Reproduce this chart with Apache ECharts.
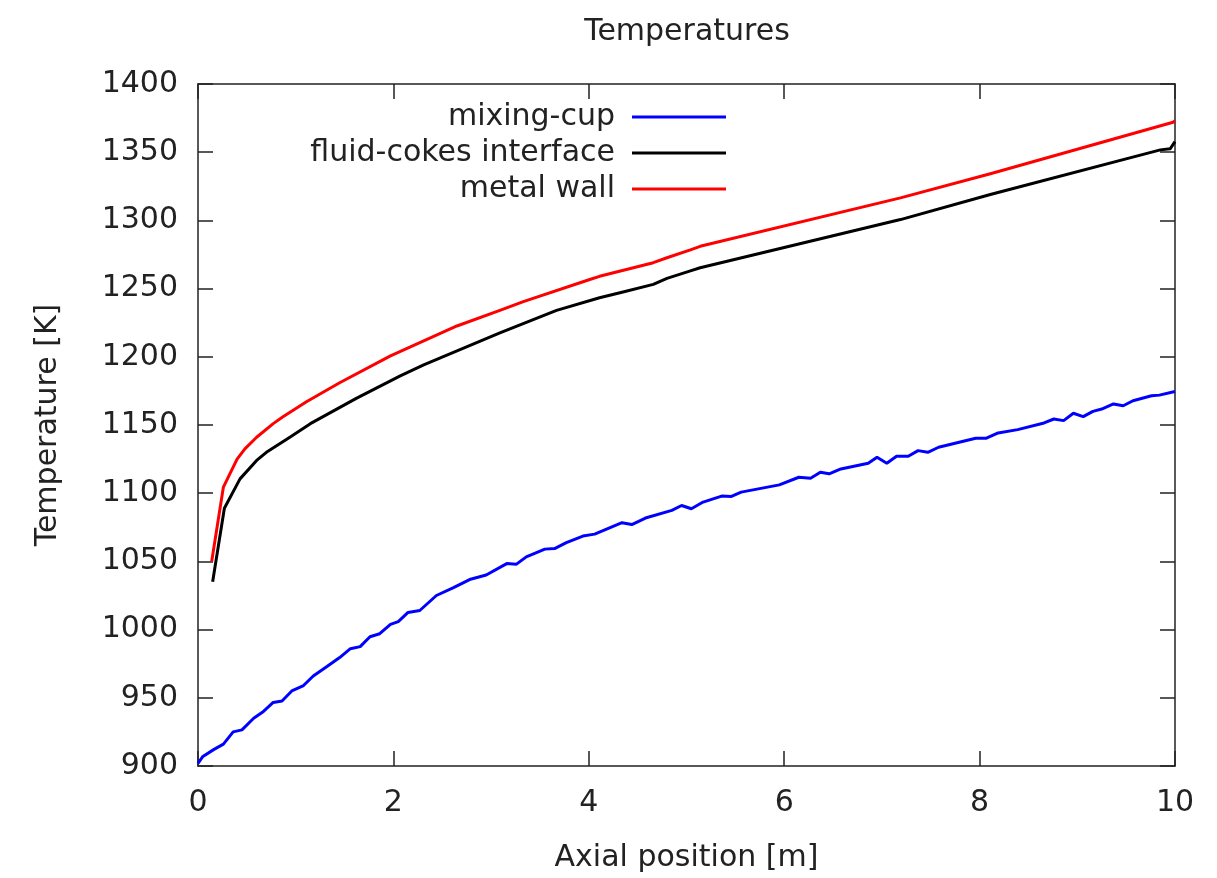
<!DOCTYPE html>
<html>
<head>
<meta charset="utf-8">
<script src="https://cdn.jsdelivr.net/npm/echarts@6/dist/echarts.min.js"></script>
<style>html,body{margin:0;padding:0;background:#fff;}#chart{width:1217px;height:878px;}</style>
</head>
<body>
<div id="chart"></div>
<script>
// ---- data ----
const seriesNames = ['mixing-cup', 'fluid-cokes interface', 'metal wall'];
const xTicks = [0, 2, 4, 6, 8, 10];
const yTicks = [900, 950, 1000, 1050, 1100, 1150, 1200, 1250, 1300, 1350, 1400];

const mixX = [0.0, 0.05, 0.16, 0.26, 0.36, 0.45, 0.57, 0.67, 0.77, 0.86, 0.96, 1.08, 1.18, 1.32, 1.45, 1.56, 1.66, 1.76, 1.86, 1.97,
  2.05, 2.15, 2.27, 2.44, 2.61, 2.78, 2.95, 3.16, 3.26, 3.36, 3.55, 3.65, 3.77, 3.94, 4.06, 4.34, 4.44, 4.58, 4.85, 4.95,
  5.05, 5.17, 5.36, 5.46, 5.56, 5.95, 6.15, 6.27, 6.37, 6.46, 6.58, 6.86, 6.95, 7.05, 7.15, 7.27, 7.37, 7.47, 7.58, 7.96,
  8.07, 8.19, 8.39, 8.66, 8.76, 8.86, 8.96, 9.06, 9.16, 9.25, 9.37, 9.47, 9.57, 9.76, 9.84, 10.0];
const mixT = [902, 907, 912, 916, 925, 926.5, 935, 940, 946.6, 947.7, 955, 959, 966, 973, 979.5, 986, 987.5, 994.8, 997, 1003.8,
  1005.8, 1012.6, 1014, 1025, 1030.6, 1036.7, 1040, 1048.4, 1048, 1053.3, 1059, 1059.4, 1063.7, 1068.6, 1070, 1078.4, 1077, 1081.8, 1087.4, 1091,
  1088.6, 1093.5, 1097.9, 1097.6, 1100.8, 1106.1, 1111.7, 1111, 1115.4, 1114.2, 1117.8, 1122, 1126.4, 1122, 1127.1, 1127.1, 1131.2, 1130, 1133.7, 1140.3,
  1140.3, 1144.2, 1146.6, 1151.5, 1154.4, 1153.2, 1158.6, 1156.1, 1160, 1161.7, 1165.4, 1164.1, 1167.8, 1171.4, 1171.9, 1174.6];

const ifaceX = [0.15, 0.27, 0.43, 0.60, 0.70, 0.94, 1.15, 1.62, 2.07, 2.31, 3.09, 3.67, 4.11, 4.35, 4.66, 4.80, 5.04, 5.14, 7.19, 8.11, 9.85, 9.95, 10.0];
const ifaceT = [1035, 1089, 1110.5, 1124, 1130, 1141, 1151, 1169.5, 1186, 1194, 1217.5, 1234, 1243.3, 1247.5, 1253.1, 1257.5, 1263, 1265.3, 1300.6, 1319, 1351.7, 1352.5, 1357.8];

const wallX = [0.14, 0.26, 0.40, 0.48, 0.60, 0.77, 0.87, 1.11, 1.45, 1.97, 2.65, 3.09, 3.33, 4.01, 4.11, 4.66, 4.80, 5.04, 5.14, 7.19, 8.11, 9.98, 10.0];
const wallT = [1050, 1104.5, 1125, 1132.5, 1141, 1151, 1156, 1167, 1181, 1200.7, 1222.6, 1234, 1240.5, 1256.7, 1259, 1269, 1272.6, 1278.4, 1281, 1316.5, 1334.2, 1372, 1373];

const colors = ['#0000ff', '#000000', '#ff0000'];

function pairs(xs, ys) { return xs.map((x, i) => [x, ys[i]]); }

const FONT = 'DejaVu Sans';
const FS = 30;
const TXT = '#222';
const chart = echarts.init(document.getElementById('chart'), null, { renderer: 'canvas' });

const axisLine = { show: true, onZero: false, lineStyle: { color: '#222', width: 1.5 } };
const tick = { show: true, inside: true, length: 15, lineStyle: { color: '#222', width: 1.5 } };

chart.setOption({
  animation: false,
  backgroundColor: '#fff',
  title: {
    text: 'Temperatures', left: 687, top: 17, textAlign: 'center', padding: 0,
    textStyle: { fontFamily: FONT, fontSize: FS, fontWeight: 'normal', color: TXT }
  },
  grid: { left: 198, right: 42, top: 84, bottom: 110, containLabel: false },
  legend: {
    data: seriesNames, orient: 'vertical', align: 'right', right: 491, top: 102, padding: 0,
    icon: 'rect', itemWidth: 94, itemHeight: 3, itemGap: 6,
    textStyle: { fontFamily: FONT, fontSize: FS, color: TXT, lineHeight: 30, padding: [0, 12, 0, 0] }
  },
  xAxis: [
    {
      type: 'value', min: xTicks[0], max: xTicks[xTicks.length - 1], interval: xTicks[1] - xTicks[0], position: 'bottom',
      name: 'Axial position [m]', nameLocation: 'middle', nameGap: 77,
      nameTextStyle: { fontFamily: FONT, fontSize: FS, color: TXT },
      axisLine: axisLine, axisTick: tick, splitLine: { show: false },
      axisLabel: { fontFamily: FONT, fontSize: FS, color: TXT, margin: 22 }
    },
    {
      type: 'value', min: xTicks[0], max: xTicks[xTicks.length - 1], interval: xTicks[1] - xTicks[0], position: 'top',
      axisLine: axisLine, axisTick: tick, splitLine: { show: false }, axisLabel: { show: false }
    }
  ],
  yAxis: [
    {
      type: 'value', min: yTicks[0], max: yTicks[yTicks.length - 1], interval: yTicks[1] - yTicks[0], position: 'left',
      name: 'Temperature [K]', nameLocation: 'middle', nameGap: 135, nameRotate: 90,
      nameTextStyle: { fontFamily: FONT, fontSize: FS, color: TXT },
      axisLine: axisLine, axisTick: tick, splitLine: { show: false },
      axisLabel: { fontFamily: FONT, fontSize: FS, color: TXT, margin: 20, formatter: v => String(v) }
    },
    {
      type: 'value', min: yTicks[0], max: yTicks[yTicks.length - 1], interval: yTicks[1] - yTicks[0], position: 'right',
      axisLine: axisLine, axisTick: tick, splitLine: { show: false }, axisLabel: { show: false }
    }
  ],
  series: [
    { name: seriesNames[0], type: 'line', data: pairs(mixX, mixT), showSymbol: false, symbol: 'none', lineStyle: { width: 3, color: colors[0] }, itemStyle: { color: colors[0] } },
    { name: seriesNames[1], type: 'line', data: pairs(ifaceX, ifaceT), showSymbol: false, symbol: 'none', lineStyle: { width: 3, color: colors[1], join: 'round' }, itemStyle: { color: colors[1] } },
    { name: seriesNames[2], type: 'line', data: pairs(wallX, wallT), showSymbol: false, symbol: 'none', lineStyle: { width: 3, color: colors[2], join: 'round' }, itemStyle: { color: colors[2] } }
  ]
});
</script>
</body>
</html>
